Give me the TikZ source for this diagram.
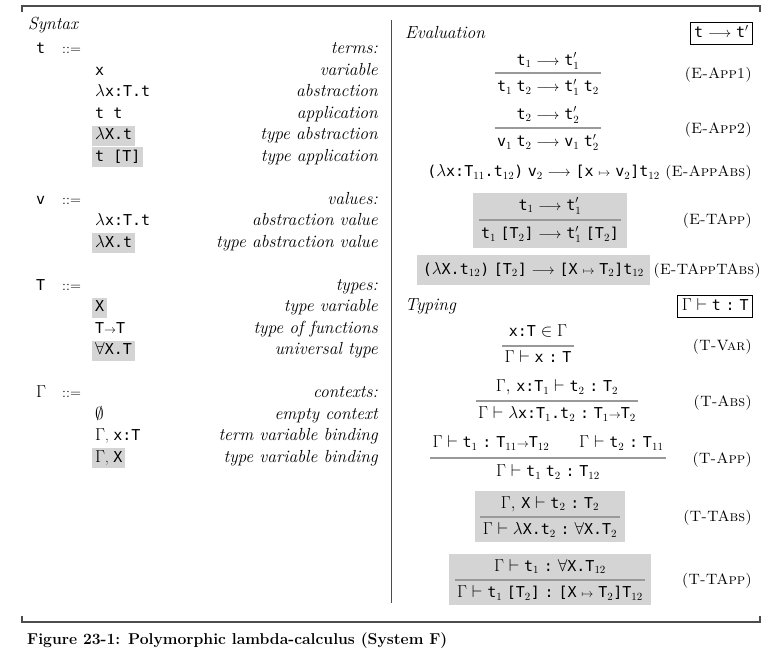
\documentclass[tikz,border=0pt]{standalone}
\usepackage{fontspec}
\setmonofont{DejaVu Sans Mono}
\DeclareMathSizes{15}{17.28}{10.95}{8}
\usetikzlibrary{fit,backgrounds}
\definecolor{boxgray}{gray}{0.83}
\definecolor{rulegray}{gray}{0.6}
\definecolor{framegray}{gray}{0.3}
\newcommand{\T}[1]{\texttt{#1}}
\newcommand{\hc}{\mathrel{\texttt{:}}}
\newcommand{\lra}{\mathrel{\hbox{\fontsize{14}{16}\selectfont$\longrightarrow$}}}
\newcommand{\mto}{\mathrel{\hbox{\fontsize{12}{14}\selectfont$\mapsto$}}}
\newcommand{\sto}{\mathord{\hbox{\fontsize{12}{14}\selectfont$\rightarrow$}}}
% #1 name, #2 cx, #3 premise y, #4 line y, #5 conclusion y, #6 premise, #7 conclusion
\newcommand{\infrule}[7]{%
  \node[anchor=mid] (#1p) at (#2,#3) {$#6$};
  \node[anchor=mid] (#1c) at (#2,#5) {$#7$};
  \coordinate (#1l) at (#2,#4);
  \node[fit=(#1p)(#1c), inner xsep=2pt, inner ysep=0pt] (#1f) {};
  \draw[infline] (#1f.west |- #1l) -- (#1f.east |- #1l);
}
\begin{document}
\begin{tikzpicture}[x=1pt,y=-1pt,
  every node/.style={inner sep=0pt, font=\fontsize{15}{18}\selectfont},
  code/.style={anchor=mid west, inner xsep=3pt, inner ysep=2.5pt, text height=11.5pt, text depth=3.5pt},
  hl/.style={code, fill=boxgray},
  desc/.style={anchor=mid east, font=\fontsize{17.5}{21}\selectfont\itshape},
  head/.style={anchor=mid west, font=\fontsize{17.5}{21}\selectfont\itshape},
  nt/.style={anchor=mid west},
  defs/.style={anchor=mid west, font=\fontsize{14}{16}\selectfont},
  rname/.style={anchor=mid east, font=\fontsize{15}{18}\selectfont\scshape},
  frameline/.style={draw=framegray, line width=1.6pt},
  sepline/.style={draw=framegray, line width=0.8pt},
  infline/.style={draw=rulegray, line width=1.2pt},
  judg/.style={draw, line width=0.8pt, anchor=east, inner xsep=4pt, inner ysep=3.5pt, text height=11.5pt, text depth=3.5pt},
  gbox/.style={fill=boxgray, inner xsep=8pt, inner ysep=5pt},
  capt/.style={anchor=mid west, font=\fontsize{15.7}{18}\selectfont\bfseries}
]
\useasboundingbox (0,0) rectangle (770,655);
\begin{scope}[on background layer]\fill[white] (0,0) rectangle (770,655);\end{scope}
% frame
\draw[frameline] (22,12) -- (22,6) -- (760,6) -- (760,12);
\draw[frameline] (22,616) -- (22,622) -- (760,622) -- (760,616);
\draw[sepline] (391,20) -- (391,603);

% ---------- Syntax ----------
\node[head] (syn) at (28,27) {Syntax};

\node[nt] (n0) at (36,51.5) {\T{t}};
\node[defs] (e0) at (62,51.5) {$::=$};
\node[desc] (d0) at (378,51.5) {terms:};
\node[code] (c1) at (92,73) {\T{x}};
\node[desc] (d1) at (378,73) {variable};
\node[code] (c2) at (92,94.5) {$\lambda$\T{x:T.t}};
\node[desc] (d2) at (378,94.5) {abstraction};
\node[code] (c3) at (92,116) {\T{t t}};
\node[desc] (d3) at (378,116) {application};
\node[hl] (c4) at (92,137.5) {$\lambda$\T{X.t}};
\node[desc] (d4) at (378,137.5) {type abstraction};
\node[hl] (c5) at (92,159) {\T{t [T]}};
\node[desc] (d5) at (378,159) {type application};

\node[nt] (n7) at (36,202) {\T{v}};
\node[defs] (e7) at (62,202) {$::=$};
\node[desc] (d7) at (378,202) {values:};
\node[code] (c8) at (92,223.5) {$\lambda$\T{x:T.t}};
\node[desc] (d8) at (378,223.5) {abstraction value};
\node[hl] (c9) at (92,245) {$\lambda$\T{X.t}};
\node[desc] (d9) at (378,245) {type abstraction value};

\node[nt] (n11) at (36,288) {\T{T}};
\node[defs] (e11) at (62,288) {$::=$};
\node[desc] (d11) at (378,288) {types:};
\node[hl] (c12) at (92,309.5) {\T{X}};
\node[desc] (d12) at (378,309.5) {type variable};
\node[code] (c13) at (92,331) {$\T{T}\sto\T{T}$};
\node[desc] (d13) at (378,331) {type of functions};
\node[hl] (c14) at (92,352.5) {$\forall$\T{X.T}};
\node[desc] (d14) at (378,352.5) {universal type};

\node[nt] (n16) at (36,395.5) {$\Gamma$};
\node[defs] (e16) at (62,395.5) {$::=$};
\node[desc] (d16) at (378,395.5) {contexts:};
\node[code] (c17) at (92,417) {$\emptyset$};
\node[desc] (d17) at (378,417) {empty context};
\node[code] (c18) at (92,438.5) {$\Gamma$, \T{x:T}};
\node[desc] (d18) at (378,438.5) {term variable binding};
\node[hl] (c19) at (92,460) {$\Gamma$, \T{X}};
\node[desc] (d19) at (378,460) {type variable binding};

% ---------- Evaluation ----------
\node[head] (evh) at (405,36) {Evaluation};
\node[judg] (evj) at (753,33.5) {$\T{t}\lra\T{t}'$};

\infrule{ea1}{548}{63}{73}{89.5}{\T{t}_1\lra\T{t}'_1}{\T{t}_1\ \T{t}_2\lra\T{t}'_1\ \T{t}_2}
\node[rname] (ea1n) at (752,76) {(E-App1)};

\infrule{ea2}{548}{117}{128}{144.5}{\T{t}_2\lra\T{t}'_2}{\T{v}_1\ \T{t}_2\lra\T{v}_1\ \T{t}'_2}
\node[rname] (ea2n) at (752,131) {(E-App2)};

\node[rname] (eaan) at (752,174.5) {(E-AppAbs)};
\node[anchor=mid east] (eaa) at ([xshift=-5pt]eaan.mid west)
  {$\T{(}\lambda\T{x:T}_{11}\T{.t}_{12}\T{)}\ \T{v}_2\lra\T{[x}\mto\T{v}_2\T{]t}_{12}$};

\infrule{eta}{550}{208}{220}{236.5}{\T{t}_1\lra\T{t}'_1}{\T{t}_1\ \T{[T}_2\T{]}\lra\T{t}'_1\ \T{[T}_2\T{]}}
\begin{scope}[on background layer]\node[gbox, fit=(etap)(etac)] (etab) {};\end{scope}
\node[rname] (etan) at (752,222) {(E-TApp)};

\node[rname] (ettn) at (761,272) {(E-TAppTAbs)};
\node[anchor=mid east, fill=boxgray, inner xsep=6pt, inner ysep=7pt, text height=12pt, text depth=4pt] (ett)
  at ([xshift=-3pt]ettn.mid west)
  {$\T{(}\lambda\T{X.t}_{12}\T{)}\ \T{[T}_2\T{]}\lra\T{[X}\mto\T{T}_2\T{]t}_{12}$};

% ---------- Typing ----------
\node[head] (tyh) at (405,308) {Typing};
\node[judg] (tyj) at (753,306.5) {$\Gamma\vdash\T{t}\hc\T{T}$};

\infrule{tv}{538}{334}{346}{360.5}{\T{x:T}\in\Gamma}{\Gamma\vdash\T{x}\hc\T{T}}
\node[rname] (tvn) at (752,348) {(T-Var)};

\infrule{tab}{557}{389.5}{401}{416.5}{\Gamma,\,\T{x:T}_1\vdash\T{t}_2\hc\T{T}_2}{\Gamma\vdash\lambda\T{x:T}_1\T{.t}_2\hc\T{T}_1\sto\T{T}_2}
\node[rname] (tabn) at (752,404) {(T-Abs)};

\infrule{tap}{548}{445.5}{458}{474.5}{\Gamma\vdash\T{t}_1\hc\T{T}_{11}\sto\T{T}_{12}\hspace{30pt}\Gamma\vdash\T{t}_2\hc\T{T}_{11}}{\Gamma\vdash\T{t}_1\ \T{t}_2\hc\T{T}_{12}}
\node[rname] (tapn) at (752,461) {(T-App)};

\infrule{tta}{550}{506}{517}{532.5}{\Gamma,\,\T{X}\vdash\T{t}_2\hc\T{T}_2}{\Gamma\vdash\lambda\T{X.t}_2\hc\forall\T{X.T}_2}
\begin{scope}[on background layer]\node[gbox, fit=(ttap)(ttac)] (ttab) {};\end{scope}
\node[rname] (ttan) at (752,519) {(T-TAbs)};

\infrule{ttp}{550}{569}{580}{595.5}{\Gamma\vdash\T{t}_1\hc\forall\T{X.T}_{12}}{\Gamma\vdash\T{t}_1\ \T{[T}_2\T{]}\hc\T{[X}\mto\T{T}_2\T{]T}_{12}}
\begin{scope}[on background layer]\node[gbox, fit=(ttpp)(ttpc)] (ttpb) {};\end{scope}
\node[rname] (ttpn) at (752,582) {(T-TApp)};

% ---------- caption ----------
\node[capt] (cap) at (27,642) {Figure 23-1: Polymorphic lambda-calculus (System F)};
\end{tikzpicture}
\end{document}
